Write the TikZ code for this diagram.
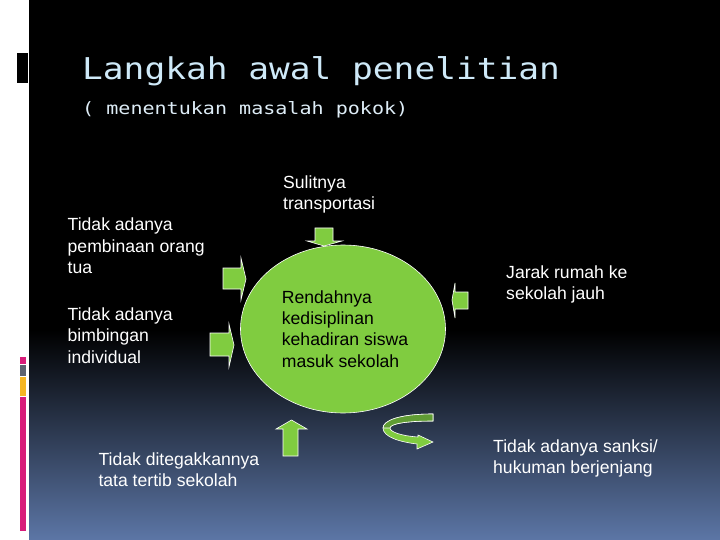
\documentclass[tikz,border=0pt]{standalone}
\usepackage{fontspec}
\usepackage{tikz}
\usetikzlibrary{shapes.geometric}
\newfontfamily\arialfont{Liberation Sans}
\newfontfamily\monofont{DejaVu Sans Mono}
\definecolor{hijau}{RGB}{128,204,64}
\definecolor{hijaugelap}{RGB}{96,156,52}
\definecolor{birubawah}{RGB}{92,118,166}
\definecolor{judul}{RGB}{206,233,248}
\definecolor{subjudul}{RGB}{222,237,247}
\definecolor{pink}{RGB}{216,28,122}
\definecolor{oranye}{RGB}{245,182,35}
\definecolor{abu}{RGB}{92,98,112}

\begin{document}
\begin{tikzpicture}[x=1pt,y=-1pt,
  teks/.style={anchor=north west, inner sep=0pt, align=left, text=white,
    font=\arialfont\fontsize{17.6}{21.4}\selectfont},
  blok/.style={fill=hijau, draw=white, line width=0.6pt}]
\useasboundingbox (0,0) rectangle (720,540);
% latar
\fill[white] (0,0) rectangle (720,540);
\fill[black] (29,0) rectangle (720,540);
\shade[top color=black, bottom color=birubawah] (29,330) rectangle (720,540);
\fill[black] (17,53) rectangle (28,83);
\fill[pink] (20,357) rectangle (26,364);
\fill[abu] (20,365) rectangle (26,376);
\fill[oranye] (20,377) rectangle (26,396);
\fill[pink] (20,397) rectangle (26,531);

% judul
\node [anchor=base west, inner sep=0pt, text=judul, font=\monofont\fontsize{30}{36}\selectfont] (judul) at (82,79.5) {\scalebox{1.15}[1]{Langkah awal penelitian}};
\node [anchor=base west, inner sep=0pt, text=subjudul, font=\monofont\fontsize{17}{20}\selectfont] (subjudul) at (82,115) {\scalebox{1.18}[1]{( menentukan masalah pokok)}};

% masalah pokok
\node [ellipse, fill=hijau, draw=white, line width=0.6pt, minimum width=205pt, minimum height=168pt, inner sep=0pt, align=left, font=\arialfont\fontsize{17.6}{21.4}\selectfont] (pokok) at (343,329) {\hspace*{4pt}Rendahnya\\\hspace*{4pt}kedisiplinan\\\hspace*{4pt}kehadiran siswa\\\hspace*{4pt}masuk sekolah};

% penyebab
\node [teks] (sulit) at (283,175.3) {Sulitnya\\transportasi};
\node [teks] (bina) at (67.5,218) {Tidak adanya\\pembinaan orang\\tua};
\node [teks] (bimbing) at (67.5,307.3) {Tidak adanya\\bimbingan\\individual};
\node [teks] (jarak) at (506,265.6) {Jarak rumah ke\\sekolah jauh};
\node [teks] (tatib) at (98.3,452.3) {Tidak ditegakkannya\\tata tertib sekolah};
\node [teks] (sanksi) at (493,439.3) {Tidak adanya sanksi/\\hukuman berjenjang};

% panah
\draw[blok] (315,228) -- (333,228) -- (333,241) -- (342,241) -- (324,246) -- (307,241) -- (315,241) -- cycle;
\draw[blok] (223,268) -- (241,268) -- (241,258) -- (246,279) -- (241,300) -- (241,289) -- (223,289) -- cycle;
\draw[blok] (210,333) -- (229,333) -- (229,324) -- (234,345) -- (229,367) -- (229,356) -- (210,356) -- cycle;
\draw[blok] (468,292) -- (455,292) -- (455,283) -- (452,300) -- (455,318) -- (455,309) -- (468,309) -- cycle;
\draw[blok] (283,456) -- (283,429) -- (276,429) -- (291.5,420) -- (307,429) -- (298,429) -- (298,456) -- cycle;
% panah melingkar
\draw[blok] (433,414) .. controls (398,414) and (383,421) .. (383,428) .. controls (383,437) and (400,442) .. (417,444) -- (417,449) -- (433,442) -- (418,435) -- (418,437) .. controls (402,436) and (390,432) .. (390,428) .. controls (390,424) and (405,421) .. (433,421) -- cycle;
\draw[fill=hijaugelap, draw=white, line width=0.6pt] (433,414) .. controls (398,414) and (383,421) .. (383,428) -- (390,428) .. controls (390,424) and (405,421) .. (433,421) -- cycle;

\end{tikzpicture}
\end{document}
